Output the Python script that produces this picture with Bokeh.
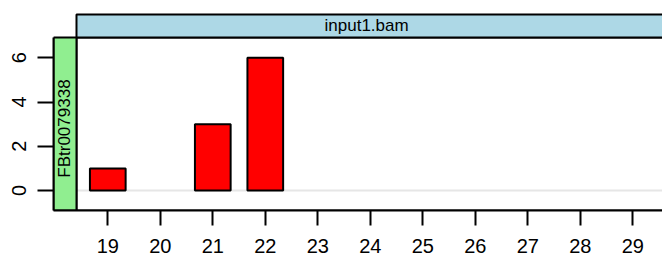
from bokeh.plotting import figure
from bokeh.models import Range1d, FixedTicker, ColumnDataSource
from bokeh.core.properties import value
from bokeh.embed import file_html
from bokeh.resources import INLINE
import math

# ---- data ----
lengths = [19, 21, 22]
counts = [1, 3, 6]
x_ticks = [19, 20, 21, 22, 23, 24, 25, 26, 27, 28, 29]
y_ticks = [0, 2, 4, 6]
strip_top_label = "input1.bam"
strip_left_label = "FBtr0079338"

# ---- layout (data units of the panel) ----
BAR_W = 0.68
X_START, X_END = 17.966, 29.566
Y_START, Y_END = -0.904, 8.092
PANEL_X0, PANEL_X1 = 18.404, 31.0
PANEL_Y0, PANEL_Y1 = Y_START, 6.917
STRIP_Y1 = 7.957
LSTRIP_X0 = X_START
TOP_TEXT_X = 23.93
LEFT_TEXT_Y = 2.80

FONT = "Liberation Sans"

p = figure(width=662, height=255, output_backend="svg", toolbar_location=None,
           x_range=Range1d(X_START, X_END), y_range=Range1d(Y_START, Y_END),
           min_border_left=53, min_border_right=0, min_border_top=11, min_border_bottom=45)
p.outline_line_color = None
p.grid.visible = False
p.background_fill_color = "white"
p.border_fill_color = "white"

# zero reference line
p.segment(x0=[PANEL_X0], x1=[PANEL_X1], y0=[0], y1=[0], line_color="#e6e6e6", line_width=2)

# bars
src = ColumnDataSource(dict(x=lengths, top=counts))
p.vbar(x="x", top="top", bottom=0, width=BAR_W, source=src,
       fill_color="#ff0000", line_color="black", line_width=2)

# panel border
p.quad(left=[PANEL_X0], right=[PANEL_X1], bottom=[PANEL_Y0], top=[PANEL_Y1],
       fill_color=None, line_color="black", line_width=2)
# top strip
p.quad(left=[PANEL_X0], right=[PANEL_X1], bottom=[PANEL_Y1], top=[STRIP_Y1],
       fill_color="#add8e6", line_color="black", line_width=2)
# left strip
p.quad(left=[LSTRIP_X0], right=[PANEL_X0], bottom=[PANEL_Y0], top=[PANEL_Y1],
       fill_color="#90ee90", line_color="black", line_width=2)

p.text(x=[TOP_TEXT_X], y=[(PANEL_Y1 + STRIP_Y1) / 2], text=[strip_top_label],
       text_font=value(FONT), text_font_size="17px", text_align="center",
       text_baseline="middle", text_color="black")
p.text(x=[(LSTRIP_X0 + PANEL_X0) / 2], y=[LEFT_TEXT_Y], text=[strip_left_label],
       angle=math.pi / 2,
       text_font=value(FONT), text_font_size="17px", text_align="center",
       text_baseline="middle", text_color="black")

# axes
xa = p.xaxis[0]
xa.ticker = FixedTicker(ticks=x_ticks)
xa.axis_line_color = "black"
xa.axis_line_width = 2
xa.major_tick_out = 15
xa.major_tick_in = 0
xa.major_tick_line_width = 2
xa.major_tick_line_color = "black"
xa.minor_tick_line_color = None
xa.major_label_text_font = FONT
xa.major_label_text_font_size = "20px"
xa.major_label_text_color = "black"
xa.major_label_standoff = 13

ya = p.yaxis[0]
ya.ticker = FixedTicker(ticks=y_ticks)
ya.bounds = (PANEL_Y0, PANEL_Y1)
ya.axis_line_color = "black"
ya.axis_line_width = 2
ya.major_tick_out = 16
ya.major_tick_in = 0
ya.major_tick_line_width = 2
ya.major_tick_line_color = "black"
ya.minor_tick_line_color = None
ya.major_label_orientation = "vertical"
ya.major_label_text_font = FONT
ya.major_label_text_font_size = "20px"
ya.major_label_text_color = "black"
ya.major_label_standoff = 11

open("out.html", "w").write(file_html(p, INLINE))
